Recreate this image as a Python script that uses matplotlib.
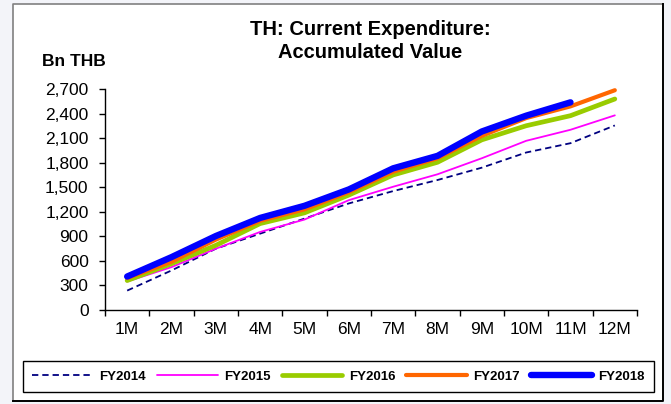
import matplotlib
matplotlib.use("Agg")
import matplotlib.pyplot as plt
from matplotlib.patches import Rectangle
from matplotlib.lines import Line2D
from matplotlib.ticker import FixedLocator, FuncFormatter, NullFormatter

plt.rcParams['font.family'] = ['Liberation Sans', 'DejaVu Sans']

months = ["1M", "2M", "3M", "4M", "5M", "6M", "7M", "8M", "9M", "10M", "11M", "12M"]

fy2014 = [237, 483, 749, 933, 1117, 1302, 1453, 1588, 1739, 1924, 2038, 2255]
fy2015 = [348, 524, 749, 954, 1105, 1342, 1506, 1658, 1854, 2067, 2202, 2378]
fy2016 = [360, 565, 790, 1056, 1187, 1404, 1650, 1805, 2079, 2251, 2374, 2578]
fy2017 = [390, 590, 860, 1090, 1230, 1440, 1690, 1854, 2128, 2345, 2488, 2685]
fy2018 = [409, 646, 904, 1125, 1273, 1473, 1731, 1883, 2181, 2374, 2537]

series = [
    ("FY2014", fy2014, dict(color="#000080", lw=1.3, ls=(0, (3.5, 2.2)))),
    ("FY2015", fy2015, dict(color="#FF00FF", lw=1.3)),
    ("FY2016", fy2016, dict(color="#99CC00", lw=3.4)),
    ("FY2017", fy2017, dict(color="#FF6600", lw=3.0)),
    ("FY2018", fy2018, dict(color="#0000FF", lw=4.6)),
]

W, H = 671, 404
fig = plt.figure(figsize=(W / 100, H / 100), dpi=100)
fig.patch.set_facecolor("#f3f4f9")

# white panel with a framed border
fig.patches.append(Rectangle((13 / W, 1 - 401 / H), 650 / W, 397 / H,
                             transform=fig.transFigure, facecolor="white",
                             edgecolor="none", zorder=-5))
fig.lines.append(Line2D([13 / W, 13 / W, 663 / W], [1 - 401 / H, 1 - 4 / H, 1 - 4 / H],
                        transform=fig.transFigure, color="#808080", lw=1.2, zorder=-4))
fig.lines.append(Line2D([663 / W, 663 / W, 13 / W], [1 - 4 / H, 1 - 401 / H, 1 - 401 / H],
                        transform=fig.transFigure, color="#000000", lw=1.4, zorder=-4))

ax = fig.add_axes([105 / W, 1 - 310 / H, 532 / W, 221 / H])
ax.set_facecolor("none")

x = list(range(len(months)))
handles = []
for name, vals, style in series:
    (ln,) = ax.plot(x[:len(vals)], vals, label=name, solid_capstyle="round",
                    dash_capstyle="butt", clip_on=False, **style)
    handles.append(ln)

ax.set_xlim(-0.5, len(months) - 0.5)
ax.set_ylim(0, 2700)
ax.set_yticks(range(0, 2701, 300))
ax.yaxis.set_major_formatter(FuncFormatter(lambda v, p: f"{int(v):,}"))

ax.xaxis.set_major_locator(FixedLocator([i - 0.5 for i in range(len(months) + 1)]))
ax.xaxis.set_major_formatter(NullFormatter())
ax.xaxis.set_minor_locator(FixedLocator(x))
ax.set_xticklabels(months, minor=True)

for s in ("top", "right"):
    ax.spines[s].set_visible(False)
for s in ("left", "bottom"):
    ax.spines[s].set_linewidth(1.0)
    ax.spines[s].set_color("black")

ax.tick_params(axis="y", which="major", direction="out", length=4.3, width=1.0,
               pad=7.5, labelsize=12.5, colors="black")
ax.tick_params(axis="x", which="major", direction="out", length=4.0, width=1.0)
ax.tick_params(axis="x", which="minor", length=0, pad=9, labelsize=12.5)

fig.text(370 / W, 1 - 41 / H, "TH: Current Expenditure:\nAccumulated Value",
         ha="center", va="center", fontsize=14.5, fontweight="bold",
         multialignment="center", linespacing=1.3)
fig.text(42 / W, 1 - 66 / H, "Bn THB", ha="left", va="baseline",
         fontsize=12.5, fontweight="bold")

leg = fig.legend(handles=handles, loc="center", ncol=5, mode="expand",
                 bbox_to_anchor=(23 / W, 1 - 393 / H, 631 / W, 33 / H),
                 bbox_transform=fig.transFigure, borderaxespad=0,
                 prop=dict(weight="bold", size=9.5), handlelength=4.6,
                 handletextpad=0.5, columnspacing=0.6, fancybox=False,
                 framealpha=1, edgecolor="black", borderpad=0.7)
leg.get_frame().set_linewidth(1.0)

fig.savefig("out.png", dpi=100, facecolor=fig.get_facecolor())
